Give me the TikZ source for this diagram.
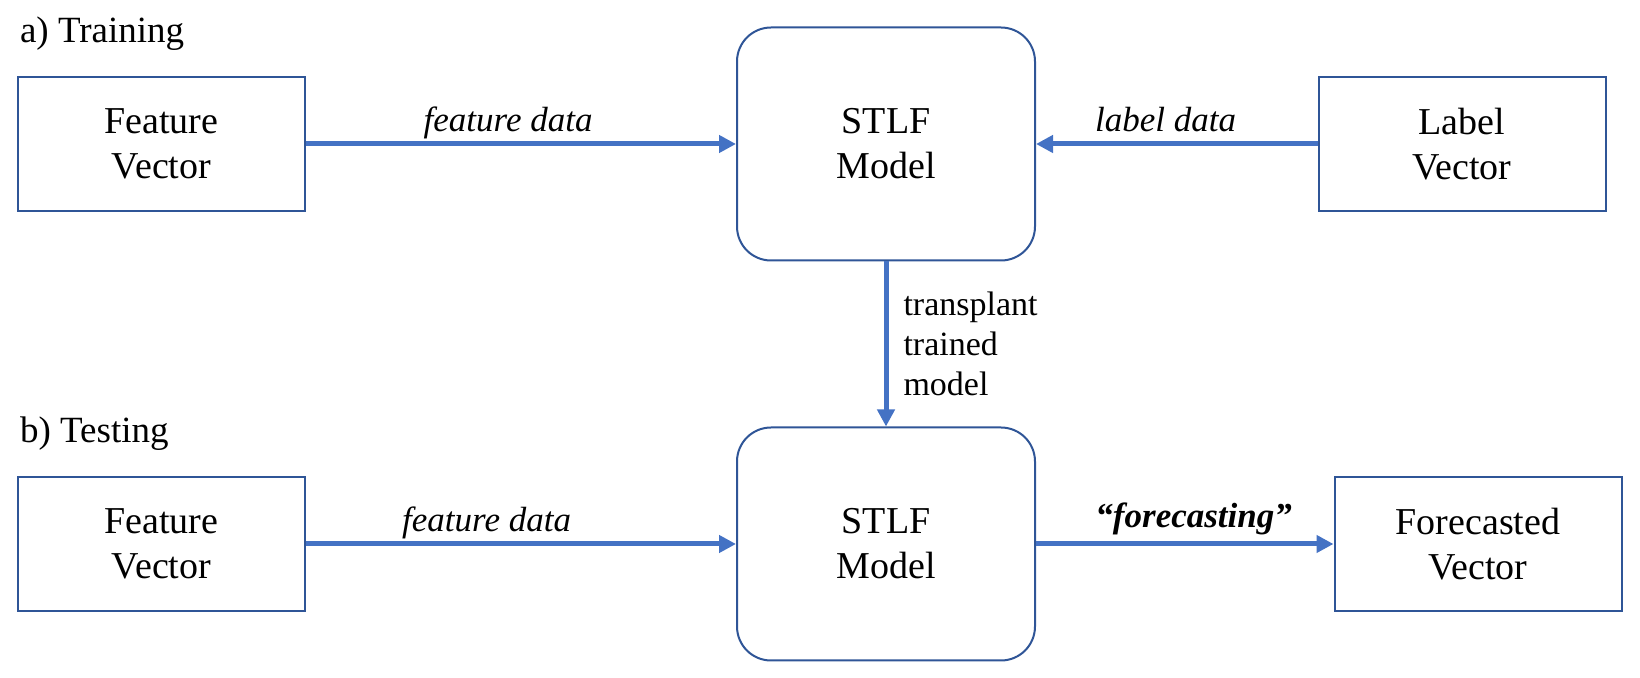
\documentclass[tikz,border=0pt]{standalone}
\usepackage{fontspec}
\setmainfont{Liberation Serif}
\usepackage{tikz}
\usetikzlibrary{arrows.meta}

\definecolor{boxblue}{HTML}{2F5597}
\definecolor{flowblue}{HTML}{4472C4}

\begin{document}
\begin{tikzpicture}[x=0.5pt, y=-0.5pt,
                    vecbox/.style={draw=boxblue, line width=1pt, fill=white, minimum width=143.5pt,
                                   minimum height=67pt, inner sep=0pt, align=center,
                                   font=\fontsize{19}{22.5}\selectfont},
                    model/.style={vecbox, rounded corners=17pt, minimum width=149pt, minimum height=116.5pt},
                    every edge/.style={draw=flowblue, line width=2.5pt},
                    >={Triangle[length=8.5pt, width=8.5pt]},
                    lbl/.style={anchor=base, yshift=6pt, font=\fontsize{17.5}{20}\selectfont\itshape},
                    title/.style={anchor=base west, font=\fontsize{18.5}{22}\selectfont}]

\useasboundingbox (0,0) rectangle (1640,678);

% a) training
\node[title] (ta) at (13,43) {a) Training};
\node[vecbox] (F1) at (161.5,144) {Feature\\Vector};
\node[model]  (M1) at (886,144)   {STLF\\Model};
\node[vecbox] (L1) at (1462,144)  {Label\\Vector};

% b) testing
\node[title] (tb) at (13,443) {b) Testing};
\node[vecbox] (F2) at (161.5,544) {Feature\\Vector};
\node[model]  (M2) at (886,544)   {STLF\\Model};
\node[vecbox] (V2) at (1478,544)  {Forecasted\\Vector};

\path[->]
(F1) edge node[lbl, pos=.47] {feature data} (M1)
(L1) edge node[lbl, pos=.54] {label data} (M1)
(M1) edge node[right, align=left, inner xsep=7.5pt, font=\fontsize{17}{20}\selectfont] {transplant\\trained\\model} (M2)
(F2) edge node[lbl, pos=.42] {feature data} (M2)
(M2) edge node[lbl, pos=.53, yshift=2pt, font=\fontsize{17.5}{20}\selectfont\bfseries\itshape] {``forecasting''} (V2);
\end{tikzpicture}
\end{document}
